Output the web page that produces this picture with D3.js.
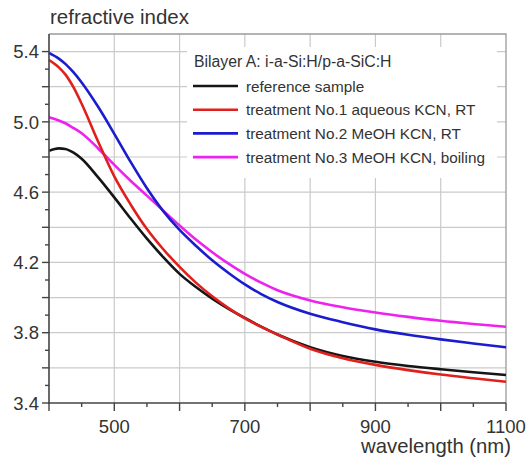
<!DOCTYPE html>
<html><head><meta charset="utf-8">
<script src="https://cdn.jsdelivr.net/npm/d3@7/dist/d3.min.js"></script>
<style>body{margin:0;background:#fff}svg{display:block}text{font-family:"Liberation Sans",Arial,sans-serif;fill:#333}</style>
</head><body><svg id="c" width="526" height="466"></svg>
<script>
const wavelength = [400,415,425,437,450,475,500,525,550,575,600,625,650,675,700,725,750,800,850,900,950,1000,1050,1100];
const refSample = [4.835,4.849,4.846,4.826,4.79,4.685,4.57,4.45,4.335,4.23,4.135,4.06,3.994,3.936,3.884,3.835,3.79,3.718,3.668,3.635,3.611,3.592,3.575,3.559];
const treat1 = [5.352,5.31,5.27,5.20,5.103,4.89,4.69,4.53,4.39,4.275,4.175,4.085,4.007,3.94,3.882,3.833,3.79,3.709,3.655,3.617,3.587,3.562,3.541,3.521];
const treat2 = [5.393,5.36,5.33,5.284,5.224,5.087,4.932,4.772,4.622,4.492,4.385,4.295,4.212,4.14,4.075,4.02,3.975,3.908,3.86,3.819,3.788,3.762,3.739,3.717];
const treat3 = [5.026,5.008,4.992,4.966,4.935,4.85,4.755,4.665,4.58,4.495,4.41,4.33,4.258,4.193,4.135,4.085,4.042,3.984,3.945,3.915,3.89,3.868,3.85,3.834];
const seriesNames = ["reference sample","treatment No.1 aqueous KCN, RT","treatment No.2 MeOH KCN, RT","treatment No.3 MeOH KCN, boiling"];
const seriesColors = ["#151515","#e0201c","#1c1ccf","#ee22ee"];
const legendTitle = "Bilayer A: i-a-Si:H/p-a-SiC:H";
const xTickLabels = [500,700,900,1100];
const yTickLabels = [3.4,3.8,4.2,4.6,5.0,5.4];
const xTitle = "wavelength (nm)", yTitle = "refractive index";

const svg = d3.select("#c");
const L=49,R=506,T=34,B=403;
const x = d3.scaleLinear().domain([400,1100]).range([L,R]);
const y = d3.scaleLinear().domain([3.4,5.5]).range([B,T]);

// grid
const g = svg.append("g");
g.selectAll(".gx").data(d3.range(500,1100,100)).join("line")
 .attr("x1",d=>x(d)).attr("x2",d=>x(d)).attr("y1",T).attr("y2",B)
 .attr("stroke","#cacaca").attr("stroke-width",1.2);
g.selectAll(".gy").data(d3.range(3.6,5.45,0.2)).join("line")
 .attr("y1",d=>y(d)).attr("y2",d=>y(d)).attr("x1",L).attr("x2",R)
 .attr("stroke","#cacaca").attr("stroke-width",1.2);
svg.append("path").attr("d",`M${L},${T}H${R}V${B}`).attr("fill","none").attr("stroke","#9a9a9a").attr("stroke-width",1.3);

// legend background
const lg = svg.append("g");
lg.append("rect").attr("x",187).attr("y",47).attr("width",310).attr("height",131).attr("fill","#fff");

// curves
const series=[refSample,treat1,treat2,treat3];
const line = d3.line().x((d,i)=>x(wavelength[i])).y(d=>y(d)).curve(d3.curveMonotoneX);
[3,2,0,1].forEach(k=>{
  svg.append("path").datum(series[k]).attr("d",line).attr("fill","none")
   .attr("stroke",seriesColors[k]).attr("stroke-width",2.6).attr("stroke-linejoin","round");
});

// axes
const xMinor = d3.range(400,1101,50);
const xa = svg.append("g").attr("transform",`translate(0,${B})`);
xa.append("line").attr("x1",L-1).attr("x2",R).attr("stroke","#444").attr("stroke-width",1.6);
xa.selectAll(".t").data(xMinor).join("line").attr("x1",d=>x(d)).attr("x2",d=>x(d))
 .attr("y1",0).attr("y2",d=>d%100===0?8:4).attr("stroke","#444").attr("stroke-width",1.4);
xa.selectAll(".l").data(xTickLabels).join("text").attr("x",d=>x(d)).attr("y",29.5)
 .attr("text-anchor","middle").style("font-size","18.5px").text(d=>d);

const yMinor = d3.range(34,55).map(v=>v/10);
const ya = svg.append("g").attr("transform",`translate(${L},0)`);
ya.append("line").attr("y1",T).attr("y2",B+1).attr("stroke","#444").attr("stroke-width",1.6);
ya.selectAll(".t").data(yMinor).join("line").attr("y1",d=>y(d)).attr("y2",d=>y(d))
 .attr("x1",0).attr("x2",d=>Math.round(d*10)%2===0?-7:-4).attr("stroke","#444").attr("stroke-width",1.4);
ya.selectAll(".l").data(yTickLabels).join("text").attr("x",-10).attr("y",d=>y(d)).attr("dy","0.36em")
 .attr("text-anchor","end").style("font-size","18.5px").text(d=>d.toFixed(1));

svg.append("text").attr("x",50).attr("y",24).style("font-size","20.5px").text(yTitle);
svg.append("text").attr("x",511).attr("y",453).attr("text-anchor","end").style("font-size","20.3px").text(xTitle);

// legend
lg.append("text").attr("x",194).attr("y",67).style("font-size","15.8px").text(legendTitle);
seriesNames.forEach((n,i)=>{
  const cy = 86 + i*23.7;
  lg.append("line").attr("x1",193).attr("x2",238).attr("y1",cy).attr("y2",cy)
    .attr("stroke",seriesColors[i]).attr("stroke-width",2.6);
  lg.append("text").attr("x",246).attr("y",cy+5.5).style("font-size","15.3px").text(n);
});
</script></body></html>
